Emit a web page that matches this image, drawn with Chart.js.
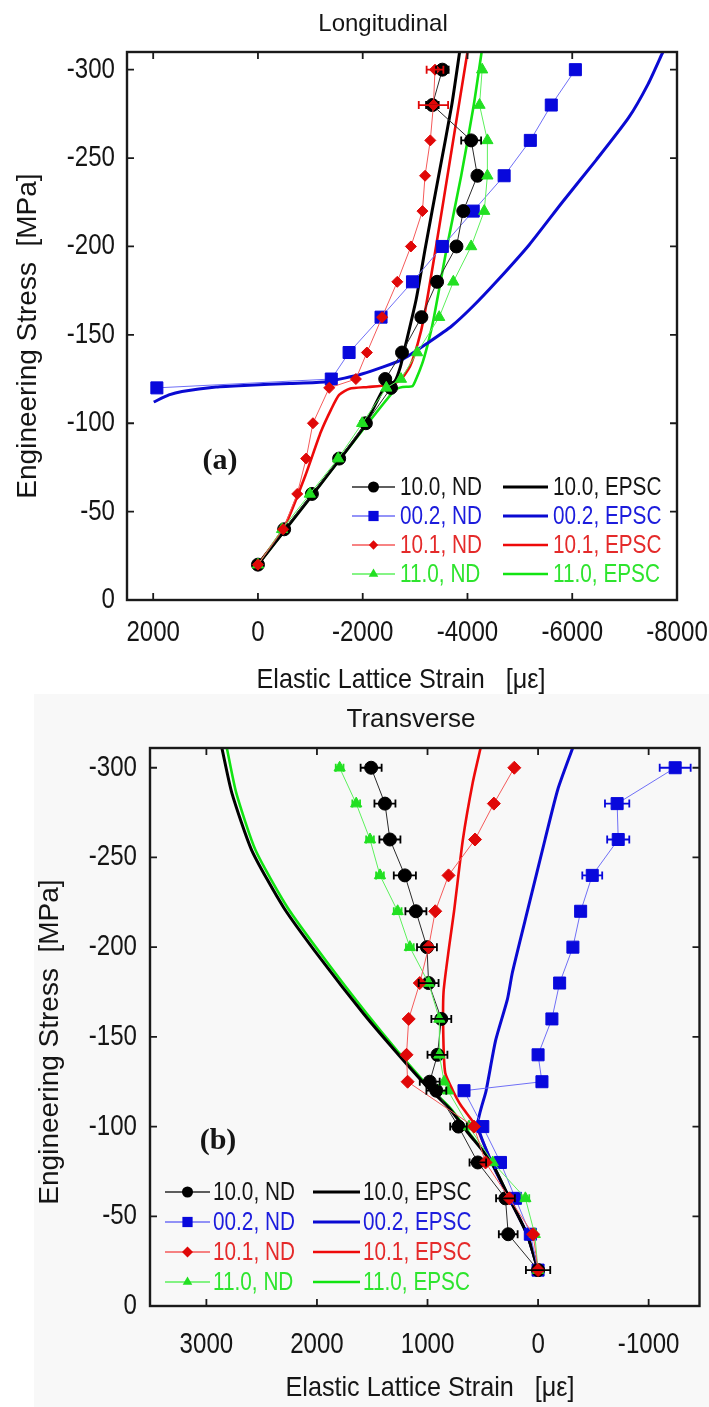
<!DOCTYPE html>
<html>
<head>
<meta charset="utf-8">
<title>Elastic lattice strain - Longitudinal / Transverse</title>
<script src="https://cdn.jsdelivr.net/npm/chart.js@4.4.1/dist/chart.umd.min.js"></script>
<style>
  html, body { margin: 0; padding: 0; background: #fff; }
  body { position: relative; width: 709px; height: 1407px; overflow: hidden; }
  #shade { position: absolute; left: 34px; top: 694px; right: 0; bottom: 0; background: #f8f8f8; }
  canvas { position: absolute; left: 0; }
  #chartA { top: 0; }
  #chartB { top: 700px; }
</style>
</head>
<body>
<div id="shade"></div>
<canvas id="chartA" width="709" height="700"></canvas>
<canvas id="chartB" width="709" height="707"></canvas>
<script>
"use strict";

// ---------- PANEL (a) LONGITUDINAL : ND points ----------
const stressA = [-20, -40, -60, -80, -100, -120, -125, -140, -160, -180, -200, -220, -240, -260, -280, -300];
const ndA_100 = [0, -500, -1030, -1550, -2060, -2540, -2430, -2750, -3120, -3420, -3790, -3920, -4190, -4070, -3330, -3520];
const ndA_101 = [0, -480, -750, -920, -1050, -1360, -1870, -2080, -2370, -2660, -2920, -3140, -3190, -3290, -3350, -3380];
const ndA_110 = [0, -460, -990, -1530, -1990, -2450, -2730, -3040, -3460, -3730, -4070, -4320, -4380, -4380, -4230, -4280];
const stressA_002 = [-120, -125, -140, -160, -180, -200, -220, -240, -260, -280, -300];
const ndA_002 = [1930, -1400, -1740, -2350, -2950, -3520, -4110, -4700, -5200, -5600, -6060];
// error bars (half widths, micro strain)
const errA_100 = [0, 0, 0, 0, 0, 0, 0, 0, 0, 0, 0, 0, 0, 190, 120, 120];
const errA_101 = [0, 0, 0, 0, 0, 0, 0, 0, 0, 0, 0, 0, 0, 0, 280, 160];

// ---------- PANEL (a) LONGITUDINAL : EPSC curves ----------
const epA_100_x = [0, -1000, -2000, -2370, -2500, -2620, -2720, -2800, -3020, -3200, -3450, -3700, -3850];
const epA_100_y = [-20, -58, -97, -118, -121.5, -124, -132, -142, -170, -200, -240, -280, -310];
const epA_002_x = [1990, 1700, 1450, 800, 170, -600, -1300, -2000, -2750, -3270, -3700, -4100, -4550, -5180, -5810, -6460, -7080, -7450, -7730];
const epA_002_y = [-112, -116, -118, -120.5, -121.5, -122.5, -123.5, -128, -136, -146, -155, -166, -180, -201, -225, -249, -273, -292, -310];
const epA_101_x = [0, -500, -900, -1200, -1400, -1550, -1750, -2100, -2450, -2700, -2900, -3050, -3170, -3400, -3700, -4000];
const epA_101_y = [-20, -41, -70, -95, -108, -116, -119.5, -120.5, -121.5, -124, -132, -145, -160, -200, -255, -310];
const epA_110_x = [0, -1050, -2100, -2620, -2760, -2950, -3020, -3150, -3270, -3360, -3610, -3880, -4120, -4270];
const epA_110_y = [-20, -60, -100, -119, -120.5, -121, -125, -135, -148, -160, -200, -240, -280, -310];

// ---------- PANEL (b) TRANSVERSE : ND points ----------
const stressB = [-20, -40, -60, -80, -100, -120, -125, -140, -160, -180, -200, -220, -240, -260, -280, -300];
const ndB_100 = [0, 270, 295, 545, 720, 920, 980, 910, 875, 990, 1005, 1105, 1205, 1340, 1385, 1510];
const ndB_002 = [0, 70, 205, 340, 500, 670, -35, 0, -125, -195, -315, -385, -490, -725, -715, -1240];
const ndB_110 = [0, 30, 115, 410, 625, 815, 850, 893, 893, 990, 1160, 1270, 1430, 1520, 1645, 1795];
const stressB_101 = [-20, -40, -60, -80, -100, -125, -140, -160, -180, -200, -220, -240, -260, -280, -300];
const ndB_101 = [0, 45, 260, 475, 580, 1180, 1190, 1170, 1070, 990, 930, 810, 570, 400, 215];
const errB_100 = [110, 85, 85, 75, 75, 90, 90, 90, 90, 90, 90, 95, 100, 95, 95, 95];
const errB_002 = [0, 0, 0, 0, 0, 0, 0, 0, 0, 0, 0, 30, 90, 100, 110, 140];
const errB_110 = [0, 0, 35, 0, 0, 0, 0, 0, 0, 0, 35, 35, 35, 35, 35, 35];

// ---------- PANEL (b) TRANSVERSE : EPSC curves ----------
const epB_100_x = [0, 100, 260, 420, 640, 800, 1000, 1290, 1580, 1960, 2300, 2590, 2770, 2860];
const epB_100_y = [-20, -40, -60, -80, -97, -110, -122, -142, -163, -193, -222, -254, -286, -311];
const epB_002_x = [0, 100, 260, 420, 545, 470, 384, 277, 232, 89, -63, -179, -313];
const epB_002_y = [-20, -40, -60, -80, -101, -120, -148, -171, -186, -222, -260, -288, -311];
const epB_101_x = [0, 100, 260, 420, 560, 700, 770, 840, 857, 855, 805, 760, 680, 590, 520];
const epB_101_y = [-20, -40, -60, -80, -100, -112, -120, -130, -150, -175, -200, -220, -260, -292, -311];
const epB_110_x = [0, 100, 260, 420, 630, 790, 985, 1270, 1550, 1925, 2265, 2555, 2730, 2815];
const epB_110_y = [-20, -40, -60, -80, -97, -110, -122, -142, -163, -193, -222, -254, -286, -311];

// ---------- tick values ----------
const xTicksA = [2000, 0, -2000, -4000, -6000, -8000];
const xTicksB = [3000, 2000, 1000, 0, -1000];
const yTicks = [0, -50, -100, -150, -200, -250, -300];

const SANS = '"Liberation Sans", Arial, sans-serif';
const SQUEEZE = 0.83; // the figure's lettering is condensed

// series styles
const ST = {
  k: { fill: "#000000", line: "#2a2a2a", text: "#141414", epsc: "#000000" },
  b: { fill: "#0808dc", line: "#6f6ff6", text: "#1c1cdc", epsc: "#0a0ad2" },
  r: { fill: "#e00808", line: "#f45a5a", text: "#e42a2a", epsc: "#ee0a0a" },
  g: { fill: "#22e022", line: "#5cf05c", text: "#2ee42e", epsc: "#12e412" },
};

const ndSet = (label, xs, ys, errs, st, shape, r, order) => ({
  label,
  data: xs.map((v, i) => ({ x: v, y: ys[i] })),
  errs,
  order,
  showLine: true,
  borderColor: st.line,
  borderWidth: 1,
  pointStyle: shape,
  pointRadius: r,
  pointBackgroundColor: st.fill,
  pointBorderColor: st.fill,
  pointBorderWidth: 1,
  textColor: st.text,
  tension: 0,
});
const epscSet = (label, xs, ys, st, w) => ({
  label,
  data: xs.map((v, i) => ({ x: v, y: ys[i] })),
  order: 5,
  showLine: true,
  borderColor: st.epsc,
  borderWidth: w,
  pointRadius: 0,
  textColor: st.text,
  tension: 0.2,
});

// HELPERS
const drawText = (ctx, text, x, y, font, opt = {}) => {
  ctx.save();
  ctx.font = font;
  ctx.fillStyle = opt.color || "#151515";
  ctx.textAlign = opt.align || "center";
  ctx.textBaseline = "middle";
  ctx.translate(x, y);
  if (opt.rot) ctx.rotate(opt.rot);
  ctx.scale(opt.sx || 1, 1);
  ctx.fillText(text, 0, 0);
  ctx.restore();
};

const drawMark = (ctx, shape, x, y, r, color) => {
  ctx.save();
  ctx.fillStyle = color;
  ctx.beginPath();
  if (shape === "circle") {
    ctx.arc(x, y, r, 0, Math.PI * 2);
  } else if (shape === "rect") {
    const s = r * Math.SQRT1_2;
    ctx.rect(x - s, y - s, 2 * s, 2 * s);
  } else if (shape === "rectRot") {
    ctx.moveTo(x - r, y); ctx.lineTo(x, y - r); ctx.lineTo(x + r, y); ctx.lineTo(x, y + r);
  } else if (shape === "triangle") {
    for (let k = 0; k < 3; k++) {
      const a = k * 2 * Math.PI / 3;
      ctx[k ? "lineTo" : "moveTo"](x + Math.sin(a) * r, y - Math.cos(a) * r);
    }
  }
  ctx.closePath();
  ctx.fill();
  ctx.restore();
};

// PLUGINS
const errorBars = {
  id: "errBars",
  afterDatasetsDraw(chart) {
    const { ctx, scales: { x, y } } = chart;
    chart.data.datasets.forEach((ds) => {
      if (!ds.errs) return;
      ctx.save();
      ctx.strokeStyle = ds.pointBackgroundColor;
      ctx.lineWidth = 1.8;
      ctx.beginPath();
      ds.data.forEach((p, i) => {
        const e = ds.errs[i];
        if (!e) return;
        const x1 = x.getPixelForValue(p.x - e);
        const x2 = x.getPixelForValue(p.x + e);
        const py = y.getPixelForValue(p.y);
        ctx.moveTo(x1, py); ctx.lineTo(x2, py);
        ctx.moveTo(x1, py - 4); ctx.lineTo(x1, py + 4);
        ctx.moveTo(x2, py - 4); ctx.lineTo(x2, py + 4);
      });
      ctx.stroke();
      ctx.restore();
    });
  },
};

// box, inward ticks on all sides, and condensed tick labels
const frame = {
  id: "frame",
  afterDraw(chart, args, opts) {
    const { ctx, chartArea: a, scales: { x, y } } = chart;
    const L = 7;
    ctx.save();
    ctx.strokeStyle = "#1a1a1a";
    ctx.lineWidth = 2.4;
    ctx.strokeRect(a.left, a.top, a.right - a.left, a.bottom - a.top);
    ctx.lineWidth = 1.8;
    ctx.beginPath();
    x.ticks.forEach((t) => {
      const px = x.getPixelForValue(t.value);
      ctx.moveTo(px, a.bottom); ctx.lineTo(px, a.bottom - L);
      ctx.moveTo(px, a.top); ctx.lineTo(px, a.top + L);
    });
    y.ticks.forEach((t) => {
      const py = y.getPixelForValue(t.value);
      ctx.moveTo(a.left, py); ctx.lineTo(a.left + L, py);
      ctx.moveTo(a.right, py); ctx.lineTo(a.right - L, py);
    });
    ctx.stroke();
    ctx.restore();
    const f = opts.size + "px " + SANS;
    x.ticks.forEach((t) => {
      drawText(ctx, String(t.value), x.getPixelForValue(t.value), a.bottom + opts.xOff, f, { sx: SQUEEZE });
    });
    y.ticks.forEach((t) => {
      drawText(ctx, String(t.value), a.left - opts.yOff, y.getPixelForValue(t.value), f, { sx: SQUEEZE, align: "right" });
    });
  },
};

const twoColLegend = {
  id: "twoColLegend",
  afterDraw(chart, args, opts) {
    const ctx = chart.ctx;
    const f = opts.size + "px " + SANS;
    chart.data.datasets.forEach((ds, i) => {
      const col = opts.cols[i < 4 ? 0 : 1];
      const y = opts.top + (i % 4) * opts.rowH;
      ctx.save();
      ctx.strokeStyle = ds.borderColor;
      ctx.lineWidth = i < 4 ? 1.5 : ds.borderWidth;
      ctx.beginPath();
      ctx.moveTo(col.x, y);
      ctx.lineTo(col.x + col.len, y);
      ctx.stroke();
      ctx.restore();
      if (i < 4) drawMark(ctx, ds.pointStyle, col.x + col.len / 2, y, ds.pointRadius * 0.85, ds.pointBackgroundColor);
      drawText(ctx, ds.label, col.tx, y + 1, f, { sx: SQUEEZE, align: "left", color: ds.textColor });
    });
  },
};

const figTexts = {
  id: "figTexts",
  afterDraw(chart, args, opts) {
    opts.items.forEach((t) => drawText(chart.ctx, t.text, t.x, t.y, t.font, t));
  },
};

const makeChart = (id, datasets, cfg) => new Chart(document.getElementById(id), {
  type: "scatter",
  data: { datasets },
  options: {
    responsive: false,
    animation: false,
    events: [],
    layout: { padding: cfg.padding },
    scales: {
      x: {
        type: "linear",
        reverse: true,
        min: cfg.xmin,
        max: cfg.xmax,
        afterFit: (s) => { s.height = cfg.xH; },
        afterBuildTicks: (s) => { s.ticks = cfg.xTicks.map((v) => ({ value: v })); },
        grid: { display: false },
        border: { display: false },
        ticks: { display: false },
      },
      y: {
        type: "linear",
        reverse: true,
        min: cfg.ymin,
        max: 0,
        afterFit: (s) => { s.width = cfg.yW; },
        afterBuildTicks: (s) => { s.ticks = yTicks.map((v) => ({ value: v })); },
        grid: { display: false },
        border: { display: false },
        ticks: { display: false },
      },
    },
    plugins: {
      legend: { display: false },
      tooltip: { enabled: false },
      frame: cfg.frame,
      twoColLegend: cfg.legend,
      figTexts: { items: cfg.texts },
    },
  },
  plugins: [errorBars, frame, twoColLegend, figTexts],
});

// MAIN
makeChart("chartA", [
  ndSet("10.0, ND", ndA_100, stressA, errA_100, ST.k, "circle", 6.5, 2),
  ndSet("00.2, ND", ndA_002, stressA_002, null, ST.b, "rect", 8.5, 3),
  ndSet("10.1, ND", ndA_101, stressA, errA_101, ST.r, "rectRot", 5.5, 0),
  ndSet("11.0, ND", ndA_110, stressA, null, ST.g, "triangle", 6.5, 1),
  epscSet("10.0, EPSC", epA_100_x, epA_100_y, ST.k, 3),
  epscSet("00.2, EPSC", epA_002_x, epA_002_y, ST.b, 3),
  epscSet("10.1, EPSC", epA_101_x, epA_101_y, ST.r, 2.6),
  epscSet("11.0, EPSC", epA_110_x, epA_110_y, ST.g, 2.6),
], {
  padding: { top: 52, right: 32, bottom: 0, left: 0 },
  xmin: -8000, xmax: 2500, ymin: -310,
  xH: 100, yW: 127,
  xTicks: xTicksA,
  frame: { size: 29, xOff: 33, yOff: 12 },
  legend: { size: 25, top: 487, rowH: 29, cols: [{ x: 352, len: 43, tx: 400 }, { x: 503, len: 45, tx: 553 }] },
  texts: [
    { text: "Longitudinal", x: 383, y: 24, font: "24px " + SANS },
    { text: "Elastic Lattice Strain   [\u03bc\u03b5]", x: 401, y: 680, font: "28px " + SANS, sx: 0.9 },
    { text: "Engineering Stress  [MPa]", x: 28, y: 336, rot: -Math.PI / 2, font: "28px " + SANS },
    { text: "(a)", x: 220, y: 461, font: 'bold 30px "Liberation Serif", serif' },
  ],
});

makeChart("chartB", [
  ndSet("10.0, ND", ndB_100, stressB, errB_100, ST.k, "circle", 6.5, 2),
  ndSet("00.2, ND", ndB_002, stressB, errB_002, ST.b, "rect", 8.5, 3),
  ndSet("10.1, ND", ndB_101, stressB_101, null, ST.r, "rectRot", 6.5, 0),
  ndSet("11.0, ND", ndB_110, stressB, errB_110, ST.g, "triangle", 6.5, 1),
  epscSet("10.0, EPSC", epB_100_x, epB_100_y, ST.k, 3),
  epscSet("00.2, EPSC", epB_002_x, epB_002_y, ST.b, 3),
  epscSet("10.1, EPSC", epB_101_x, epB_101_y, ST.r, 2.6),
  epscSet("11.0, EPSC", epB_110_x, epB_110_y, ST.g, 2.6),
], {
  padding: { top: 48, right: 2, bottom: 0, left: 0 },
  xmin: -1460, xmax: 3510, ymin: -311,
  xH: 101, yW: 150,
  xTicks: xTicksB,
  frame: { size: 29, xOff: 39, yOff: 13 },
  legend: { size: 25, top: 492, rowH: 30, cols: [{ x: 165, len: 45, tx: 213 }, { x: 313, len: 47, tx: 363 }] },
  texts: [
    { text: "Transverse", x: 411, y: 20, font: "26px " + SANS },
    { text: "Elastic Lattice Strain   [\u03bc\u03b5]", x: 430, y: 688, font: "28px " + SANS, sx: 0.9 },
    { text: "Engineering Stress  [MPa]", x: 50, y: 342, rot: -Math.PI / 2, font: "28px " + SANS },
    { text: "(b)", x: 218, y: 441, font: 'bold 30px "Liberation Serif", serif' },
  ],
});
</script>
</body>
</html>
